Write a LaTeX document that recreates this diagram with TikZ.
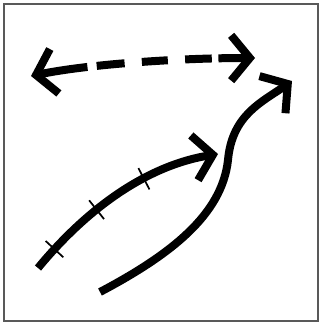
\documentclass[tikz,border=0pt]{standalone}
\usepackage{tikz}
\usetikzlibrary{arrows.meta}
\usetikzlibrary{decorations.markings}

\tikzset{
  thick line/.style={line width=6pt},
  bigbarb/.tip={Straight Barb[length=14pt,width=34pt,line width=6pt]},
  tick mark/.style={-,solid,line width=1.3pt},
  frame line/.style={draw=black!65,line width=1.6pt}
}

\begin{document}
\begin{tikzpicture}[x=0.75pt,y=-0.75pt]
\useasboundingbox (0,0) rectangle (320,325);
\draw[frame line] (4,4) rectangle (318,321);

% end points
\coordinate (dl) at (31,76);
\coordinate (dr) at (255,58);
\coordinate (tl) at (38,268);
\coordinate (tr) at (218,154);
\coordinate (sl) at (100,292);
\coordinate (sm) at (228,160);
\coordinate (sr) at (292,81);

% dashed double arrow
\draw[thick line,bigbarb-bigbarb,
  dash pattern=on 36pt off 7pt on 21pt off 13pt on 19.5pt off 13pt on 20pt off 5pt on 60pt off 1pt]
  (dl) .. controls (90,64) and (180,58) .. (dr);

% arrow with ticks
\draw[thick line,-bigbarb,
  decoration={markings,
    mark=at position 0.115 with {\draw[tick mark] (0,-9pt) -- (0,9pt);},
    mark=at position 0.38 with {\draw[tick mark] (0,-9pt) -- (0,9pt);},
    mark=at position 0.64 with {\draw[tick mark] (0,-9pt) -- (0,9pt);}},
  postaction=decorate]
  (tl) .. controls (90,205) and (150,165) .. (tr);

% s-shaped arrow
\draw[thick line,-bigbarb]
  (sl) .. controls (170,255) and (222,215) .. (sm)
       .. controls (232,115) and (262,102) .. (sr);
\end{tikzpicture}
\end{document}
